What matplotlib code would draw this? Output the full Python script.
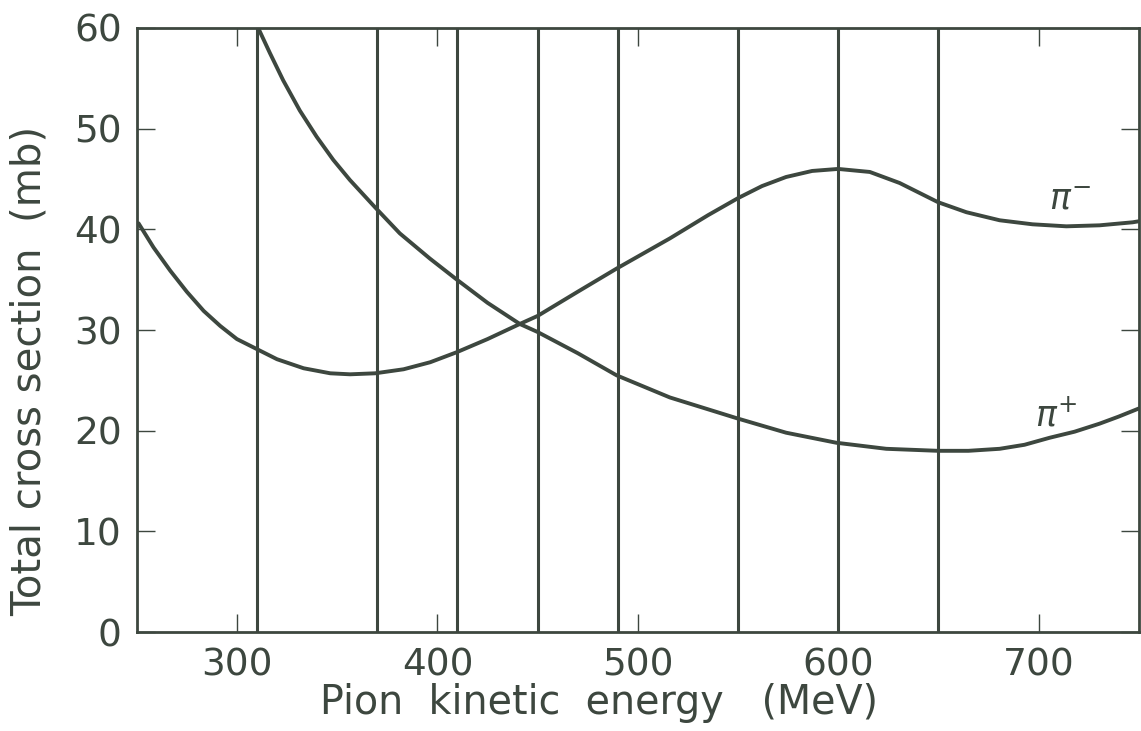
import numpy as np
import matplotlib
matplotlib.use("Agg")
import matplotlib.pyplot as plt

# pi+ total cross section (mb) vs pion kinetic energy (MeV)
energy_plus = [311.0, 316.4, 323.0, 331.3, 339.7, 348.0, 356.3, 368.8, 381.2,
               396.2, 409.7, 425, 441.1, 450, 470, 489.4, 516, 550, 574, 599.1,
               624, 649.8, 665, 680.6, 693, 705.6, 718, 730.5, 740, 750]
sigma_plus = [59.8, 57.5, 54.8, 51.8, 49.2, 46.9, 44.9, 42.2, 39.6,
              37.1, 35.0, 32.7, 30.6, 29.8, 27.7, 25.5, 23.3, 21.2, 19.8, 18.8,
              18.2, 18.0, 18.0, 18.2, 18.6, 19.3, 19.9, 20.7, 21.4, 22.2]

# pi- total cross section
energy_minus = [250.8, 258.3, 266.6, 274.9, 283.3, 291.6, 299.9, 309.9, 319.9,
                333.2, 346.5, 356.4, 368.9, 383.1, 396.4, 409.7, 425, 441.1,
                450, 470, 489.4, 516, 535, 550, 562, 574, 587, 600, 615.8,
                630.7, 649.8, 664, 680.6, 697, 713.9, 730.5, 747, 750]
sigma_minus = [40.6, 38.2, 35.9, 33.8, 31.9, 30.4, 29.1, 28.1, 27.1,
               26.2, 25.7, 25.6, 25.7, 26.1, 26.8, 27.8, 29.1, 30.6,
               31.4, 33.8, 36.1, 39.1, 41.4, 43.1, 44.3, 45.2, 45.8, 46.0, 45.7,
               44.6, 42.7, 41.7, 40.9, 40.5, 40.3, 40.4, 40.7, 40.8]

# energies marked by vertical lines
marked_energies = [310, 370, 410, 450, 490, 550, 600, 650]

x_ticks = [300, 400, 500, 600, 700]
y_ticks = [0, 10, 20, 30, 40, 50, 60]

ink = "#3d473f"

plt.rcParams["font.family"] = ["DejaVu Sans"]

fig = plt.figure(figsize=(11.41, 7.31), dpi=100)
ax = fig.add_axes([0.120, 0.1354, 0.878, 0.8263])

for e in marked_energies:
    ax.axvline(e, color=ink, linewidth=2.2)

ax.plot(energy_plus, sigma_plus, color=ink, linewidth=2.8,
        solid_joinstyle="round", solid_capstyle="round")
ax.plot(energy_minus, sigma_minus, color=ink, linewidth=2.8,
        solid_joinstyle="round", solid_capstyle="round")

ax.text(716, 42.9, r"$\pi^{-}$", color=ink, fontsize=25,
        ha="center", va="center")
ax.text(709, 21.5, r"$\pi^{+}$", color=ink, fontsize=25,
        ha="center", va="center")

ax.set_xlim(250, 750)
ax.set_ylim(0, 60)
ax.set_xticks(x_ticks)
ax.set_yticks(y_ticks)

ax.tick_params(direction="in", length=13, width=1.0, color=ink,
               top=True, right=True, labelsize=27, labelcolor=ink, pad=11)

for side in ax.spines.values():
    side.set_color(ink)
    side.set_linewidth(2.0)

ax.set_xlabel("Pion  kinetic  energy   (MeV)", fontsize=28.5, color=ink)
ax.set_ylabel("Total cross section  (mb)", fontsize=29, color=ink)
ax.xaxis.set_label_coords(0.461, -0.084)
ax.yaxis.set_label_coords(-0.087, 0.432)

fig.savefig("out.png", dpi=100)
